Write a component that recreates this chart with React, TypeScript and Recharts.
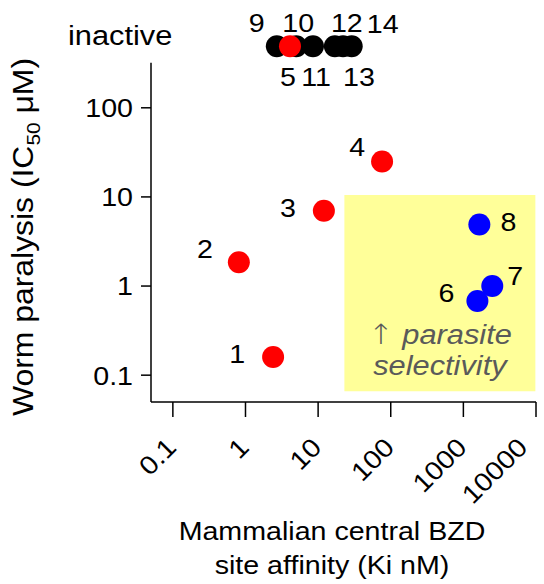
import {
  ReferenceArea,
  ReferenceLine,
  Scatter,
  ScatterChart,
  XAxis,
  YAxis,
} from 'recharts'

// compounds 1-4: active, no selectivity
const activeIds = ['1', '2', '3', '4']
const activeKi = [2.4, 0.81, 12, 76]
const activeIC50 = [0.16, 1.85, 7.0, 25]

// compounds 6-8: parasite selective
const selectiveIds = ['6', '7', '8']
const selectiveKi = [1560, 2500, 1660]
const selectiveIC50 = [0.68, 1.0, 4.9]

// inactive compounds, drawn in the row above the plot
const inactiveIds = ['9', '10', '11', '12', '13', '14']
const inactiveKi = [2.7, 5.0, 8.5, 17, 22, 29]
const inactiveRedIds = ['5']
const inactiveRedKi = [4.1]
const INACTIVE_IC50 = 490

const xTicks = [0.1, 1, 10, 100, 1000, 10000]
const yTicks = [0.1, 1, 10, 100]

const FONT = '"Liberation Sans", Arial, Helvetica, sans-serif'
const SX = 1.1
const FS = 26

// where each compound number sits relative to its dot
const labelOffset: Record<string, [number, number]> = {
  '1': [-36, -3],
  '2': [-34, -14],
  '3': [-36, -3],
  '4': [-25, -15],
  '6': [-31, -8],
  '7': [23, -10],
  '8': [29, -3],
  '9': [-20, -24],
  '10': [2, -24],
  '12': [12, -24],
  '14': [31, -23],
  '5': [-2, 30],
  '11': [3, 30],
  '13': [16, 30],
}

type TProps = {
  x: number
  y: number
  size?: number
  anchor?: 'start' | 'middle' | 'end'
  rotate?: number
  fill?: string
  italic?: boolean
  children: React.ReactNode
}

function T({ x, y, size = FS, anchor = 'middle', rotate = 0, fill = '#000', italic = false, children }: TProps) {
  return (
    <text
      transform={`translate(${x},${y}) rotate(${rotate}) scale(${SX},1)`}
      textAnchor={anchor}
      fontSize={size}
      fontFamily={FONT}
      fontStyle={italic ? 'italic' : 'normal'}
      fill={fill}
    >
      {children}
    </text>
  )
}

const toRows = (ids: string[], ki: number[], ic50: number[] | number) =>
  ids.map((id, i) => ({ id, ki: ki[i], ic50: Array.isArray(ic50) ? ic50[i] : ic50 }))

const activeData = toRows(activeIds, activeKi, activeIC50)
const selectiveData = toRows(selectiveIds, selectiveKi, selectiveIC50)
const inactiveData = toRows(inactiveIds, inactiveKi, INACTIVE_IC50)
const inactiveRedData = toRows(inactiveRedIds, inactiveRedKi, INACTIVE_IC50)

const dotShape = (color: string) => (props: any) => {
  const { cx, cy, payload } = props
  const [dx, dy] = labelOffset[payload.id] ?? [0, 0]
  return (
    <g>
      <circle cx={cx} cy={cy} r={11} fill={color} />
      <T x={cx + dx} y={cy + dy + FS * 0.36}>
        {payload.id}
      </T>
    </g>
  )
}

function XTick(props: any) {
  const { x, y, payload } = props
  return (
    <T x={x + 5} y={y + 30} anchor="end" rotate={-45}>
      {String(payload.value)}
    </T>
  )
}

function YTick(props: any) {
  const { x, y, payload } = props
  return (
    <T x={x - 6} y={y + FS * 0.36} anchor="end">
      {String(payload.value)}
    </T>
  )
}

function AreaLabel(props: any) {
  const { viewBox } = props
  const cx = viewBox.x + viewBox.width / 2
  const bottom = viewBox.y + viewBox.height
  return (
    <g>
      <T x={cx} y={bottom - 47} size={28} fill="#5a5a5a" italic>
        <tspan fontFamily='"DejaVu Sans", sans-serif' fontStyle="normal" fontWeight={200}>
          ↑
        </tspan>{' '}
        parasite
      </T>
      <T x={cx} y={bottom - 16} size={28} fill="#5a5a5a" italic>
        selectivity
      </T>
    </g>
  )
}

const axisStroke = { stroke: '#000', strokeWidth: 1.5 }

export default function App() {
  return (
    <div style={{ position: 'absolute', left: 0, top: 0, width: 544, height: 584, background: '#fff' }}>
      <ScatterChart width={544} height={584} margin={{ top: 0, right: 8, bottom: 0, left: 0 }}>
        <XAxis
          dataKey="ki"
          type="number"
          scale="log"
          domain={[0.05, 10000]}
          allowDataOverflow
          ticks={xTicks}
          height={182}
          tickSize={15}
          axisLine={axisStroke}
          tickLine={axisStroke}
          tick={<XTick />}
        />
        <YAxis
          dataKey="ic50"
          type="number"
          scale="log"
          domain={[0.05, 1620]}
          allowDataOverflow
          ticks={yTicks}
          width={151}
          tickSize={10}
          axisLine={false}
          tickLine={axisStroke}
          tick={<YTick />}
        />
        <ReferenceArea
          x1={23}
          x2={9800}
          y1={0.066}
          y2={10.5}
          fill="#ffff99"
          fillOpacity={1}
          stroke="none"
          label={<AreaLabel />}
        />
        <ReferenceLine
          segment={[
            { x: 0.05, y: 0.05 },
            { x: 0.05, y: 320 },
          ]}
          stroke="#000"
          strokeWidth={1.5}
          ifOverflow="visible"
        />
        <Scatter data={inactiveData} fill="#000" shape={dotShape('#000')} isAnimationActive={false} />
        <Scatter data={inactiveRedData} fill="#ff0000" shape={dotShape('#ff0000')} isAnimationActive={false} />
        <Scatter data={activeData} fill="#ff0000" shape={dotShape('#ff0000')} isAnimationActive={false} />
        <Scatter data={selectiveData} fill="#0000ff" shape={dotShape('#0000ff')} isAnimationActive={false} />
      </ScatterChart>
      <svg
        width={544}
        height={584}
        style={{ position: 'absolute', left: 0, top: 0, pointerEvents: 'none' }}
      >
        <T x={68} y={45} size={28} anchor="start">
          inactive
        </T>
        <text
          transform={`translate(33,237) rotate(-90) scale(${SX},1)`}
          textAnchor="middle"
          fontSize={29}
          fontFamily={FONT}
          fill="#000"
        >
          Worm paralysis (IC
          <tspan fontSize={19} dy={7}>
            50
          </tspan>
          <tspan dy={-7}> μM)</tspan>
        </text>
        <T x={332} y={540}>
          Mammalian central BZD
        </T>
        <T x={332} y={574}>
          site affinity (Ki nM)
        </T>
      </svg>
    </div>
  )
}
